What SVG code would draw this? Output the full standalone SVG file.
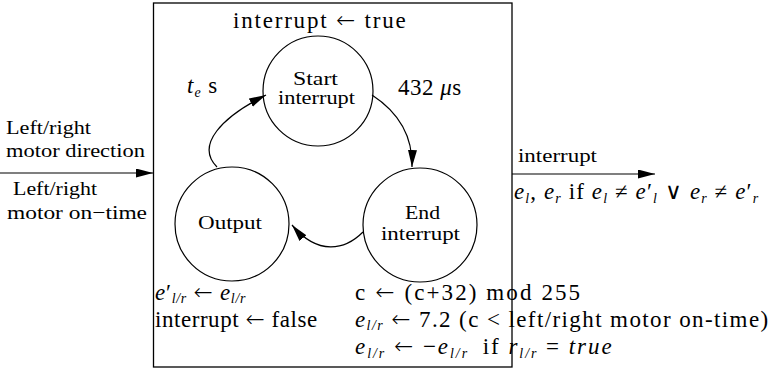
<svg xmlns="http://www.w3.org/2000/svg" width="784" height="380" viewBox="0 0 784 380">
<style>
text { font-family: "Liberation Serif", "Times New Roman", serif; font-weight: normal; fill: #000; }
.lbl { font-size: 19px; }
.m { font-size: 23px; }
.i { font-style: italic; }
.s { font-size: 14px; }
.ar { font-family: "DejaVu Sans", sans-serif; font-style: normal; font-weight: 200; }
.node { fill: #fff; stroke: #000; stroke-width: 1.2; }
.box { fill: none; stroke: #000; stroke-width: 1.3; }
.con { fill: none; stroke: #000; stroke-width: 1.2; }
</style>
<defs>
<marker id="ah" markerUnits="userSpaceOnUse" markerWidth="18" markerHeight="10" refX="17" refY="4.5" orient="auto">
<path d="M0,0 L17,4.5 L0,9 z" fill="#000"/>
</marker>
</defs>
<rect width="784" height="380" fill="#fff"/>

<g id="system-box">
<rect class="box" x="153.5" y="3" width="358.5" height="364"/>
</g>

<g id="node-start">
<circle class="node" cx="318" cy="91" r="55"/>
<text class="lbl" x="293" y="85" font-size="18" textLength="45" lengthAdjust="spacingAndGlyphs">Start</text>
<text class="lbl" x="278" y="104" font-size="18" textLength="77" lengthAdjust="spacingAndGlyphs">interrupt</text>
</g>
<g id="node-output">
<circle class="node" cx="232" cy="224" r="57"/>
<text class="lbl" x="198" y="229" textLength="64" lengthAdjust="spacingAndGlyphs">Output</text>
</g>
<g id="node-end">
<circle class="node" cx="420" cy="225" r="57"/>
<text class="lbl" x="405" y="219" textLength="35" lengthAdjust="spacingAndGlyphs">End</text>
<text class="lbl" x="381" y="240" textLength="79" lengthAdjust="spacingAndGlyphs">interrupt</text>
</g>

<g id="connectors">
<path class="con" d="M217,167 C195,145 222,117 266,95" marker-end="url(#ah)"/>
<path class="con" d="M372,95 C395,110 413,132 412,167" marker-end="url(#ah)"/>
<path class="con" d="M363,232 C345,250 318,256 292,225" marker-end="url(#ah)"/>
<path class="con" d="M0,173 L153,173" marker-end="url(#ah)"/>
<path class="con" d="M512,174 L655,174" marker-end="url(#ah)"/>
</g>

<g id="labels">
<text class="m" x="233" y="28" letter-spacing="1.8">interrupt <tspan class="ar">←</tspan> true</text>
<text class="m" x="187" y="93" letter-spacing="1"><tspan class="i">t</tspan><tspan class="s i" dy="4">e</tspan><tspan dy="-4"> s</tspan></text>
<text class="m" x="398" y="95" letter-spacing="0.5">432 <tspan class="i">μ</tspan>s</text>

<text class="lbl" x="6" y="134" textLength="85" lengthAdjust="spacingAndGlyphs">Left/right</text>
<text class="lbl" x="6" y="157" textLength="139" lengthAdjust="spacingAndGlyphs">motor direction</text>
<text class="lbl" x="13" y="195" textLength="84" lengthAdjust="spacingAndGlyphs">Left/right</text>
<text class="lbl" x="7" y="219" textLength="140" lengthAdjust="spacingAndGlyphs">motor on−time</text>

<text class="lbl" x="518" y="162" textLength="79" lengthAdjust="spacingAndGlyphs">interrupt</text>
<text class="m" x="514" y="199" letter-spacing="1.1"><tspan class="i">e</tspan><tspan class="s i" dy="4">l</tspan><tspan dy="-4">, </tspan><tspan class="i">e</tspan><tspan class="s i" dy="4">r</tspan><tspan dy="-4"> if </tspan><tspan class="i">e</tspan><tspan class="s i" dy="4">l</tspan><tspan dy="-4"> ≠ </tspan><tspan class="i">e</tspan>′<tspan class="s i" dy="4">l</tspan><tspan dy="-4"> </tspan><tspan class="ar">∨</tspan> <tspan class="i">e</tspan><tspan class="s i" dy="4">r</tspan><tspan dy="-4"> ≠ </tspan><tspan class="i">e</tspan>′<tspan class="s i" dy="4">r</tspan></text>

<text class="m" x="155" y="300" letter-spacing="0.7"><tspan class="i">e</tspan>′<tspan class="s i" dy="3">l/r</tspan><tspan dy="-3"> </tspan><tspan class="ar">←</tspan> <tspan class="i">e</tspan><tspan class="s i" dy="3">l/r</tspan></text>
<text class="m" x="155" y="327" letter-spacing="0.55">interrupt <tspan class="ar">←</tspan> false</text>

<text class="m" x="355" y="300" letter-spacing="2.1">c <tspan class="ar">←</tspan> (c+32) mod 255</text>
<text class="m" x="355" y="327" letter-spacing="1.4"><tspan class="i">e</tspan><tspan class="s i" dy="3">l/r</tspan><tspan dy="-3"> </tspan><tspan class="ar">←</tspan> 7.2 (c &lt; left/right motor on-time)</text>
<text class="m" x="355" y="354" letter-spacing="1.95"><tspan class="i">e</tspan><tspan class="s i" dy="4">l/r</tspan><tspan dy="-4"> </tspan><tspan class="ar">←</tspan> −<tspan class="i">e</tspan><tspan class="s i" dy="4">l/r</tspan><tspan dx="6" dy="-4"> if </tspan><tspan class="i">r</tspan><tspan class="s i" dy="4">l/r</tspan><tspan dy="-4"> = </tspan><tspan class="i">true</tspan></text>
</g>
</svg>
